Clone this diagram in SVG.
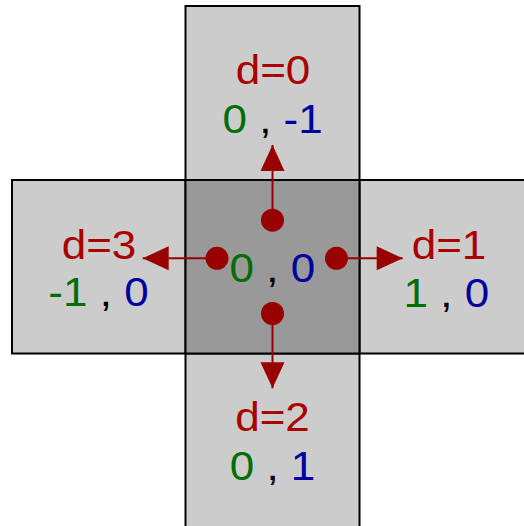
<svg xmlns="http://www.w3.org/2000/svg" width="524" height="526" viewBox="0 0 524 526">
<style>
.cell{fill:#cccccc;stroke:#000;stroke-width:2}
.mid{fill:#999999;stroke:#000;stroke-width:2}
text{font-family:"Liberation Sans",Arial,sans-serif;font-size:40px;text-anchor:middle;fill:#000}
.d{fill:#aa0000}
.g{fill:#006e00}
.b{fill:#0000a0}
.arr{stroke:#990000;stroke-width:2;fill:none;marker-start:url(#dot);marker-end:url(#head)}
</style>
<defs>
<marker id="head" markerUnits="userSpaceOnUse" markerWidth="26" markerHeight="24" refX="26" refY="12" orient="auto" overflow="visible">
<path d="M0,0 L26,12 L0,24 Z" fill="#990000"/>
</marker>
<marker id="dot" markerUnits="userSpaceOnUse" markerWidth="24" markerHeight="24" refX="12" refY="12" orient="auto" overflow="visible">
<circle cx="12" cy="12" r="11.5" fill="#990000"/>
</marker>
</defs>
<g id="cell-top">
<rect class="cell" x="185.5" y="6" width="174" height="174"/>
<text transform="translate(273,83.5) scale(1.1,1)" class="d">d=0</text>
<text transform="translate(272.6,133) scale(1.1,1)"><tspan class="g">0</tspan> , <tspan class="b">-1</tspan></text>
</g>
<g id="cell-left">
<rect class="cell" x="12" y="180" width="173.5" height="173.5"/>
<text transform="translate(99,259) scale(1.1,1)" class="d">d=3</text>
<text transform="translate(98.5,306) scale(1.1,1)"><tspan class="g">-1</tspan> , <tspan class="b">0</tspan></text>
</g>
<g id="cell-right">
<rect class="cell" x="359.5" y="180" width="180" height="173.5"/>
<text transform="translate(449,258.5) scale(1.1,1)" class="d">d=1</text>
<text transform="translate(446.3,306.5) scale(1.1,1)"><tspan class="g">1</tspan> , <tspan class="b">0</tspan></text>
</g>
<g id="cell-bottom">
<rect class="cell" x="185.5" y="353.5" width="174" height="180"/>
<text transform="translate(272.5,430.5) scale(1.1,1)" class="d">d=2</text>
<text transform="translate(272.5,480) scale(1.1,1)"><tspan class="g">0</tspan> , <tspan class="b">1</tspan></text>
</g>
<g id="cell-center">
<rect class="mid" x="185.5" y="180" width="174" height="173.5"/>
<text transform="translate(272.3,282) scale(1.1,1)"><tspan class="g">0</tspan> , <tspan class="b">0</tspan></text>
</g>
<g id="connectors">
<line class="arr" x1="272.5" y1="220.2" x2="272.5" y2="145"/>
<line class="arr" x1="217" y1="258.3" x2="142.7" y2="258.3"/>
<line class="arr" x1="336.5" y1="258.3" x2="402.7" y2="258.3"/>
<line class="arr" x1="272.5" y1="313.5" x2="272.5" y2="388.3"/>
</g>
</svg>
